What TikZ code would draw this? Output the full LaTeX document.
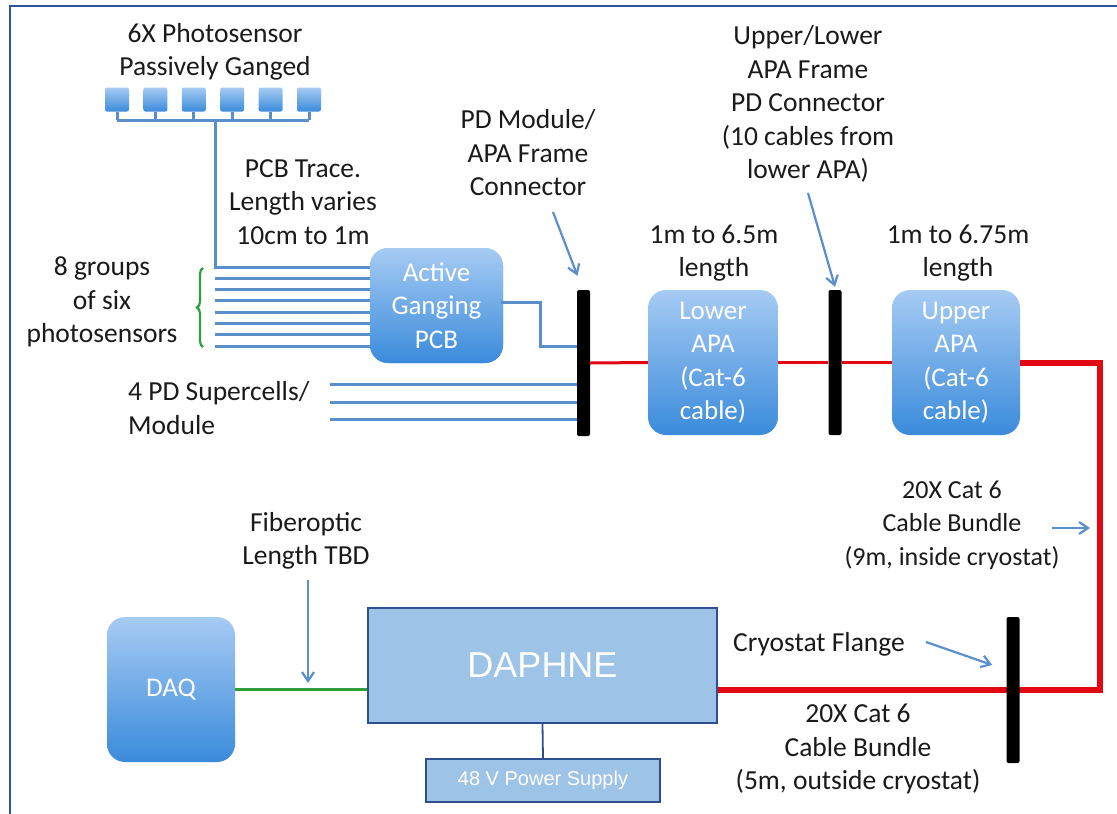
\documentclass[tikz,border=0pt]{standalone}
\usepackage{fontspec}
\setmainfont{Carlito}
\newfontfamily\arialf{Liberation Sans}
\usetikzlibrary{arrows.meta,calc,decorations.pathreplacing}
\definecolor{frameblue}{HTML}{2F5597}
\definecolor{wire}{HTML}{5B8FCC}
\definecolor{boxtop}{HTML}{A6CBF3}
\definecolor{boxbot}{HTML}{3A8BDB}
\definecolor{flatfill}{HTML}{9DC3E6}
\definecolor{flatedge}{HTML}{2E4F8F}
\definecolor{cable}{HTML}{E30613}
\definecolor{fiber}{HTML}{2E9E3A}
\definecolor{txt}{HTML}{1A1A1A}
\tikzset{
  lbl/.style={font=\fontsize{27.5}{33.5}\selectfont, text=txt, align=center, inner sep=0pt},
  gbox/.style={rounded corners=18pt, top color=boxtop, bottom color=boxbot, draw=none,
    text=white, font=\fontsize{27}{33.5}\selectfont, align=center, inner sep=0pt},
  sensor/.style={rounded corners=2pt, top color=boxtop, bottom color=boxbot,
    minimum width=24pt, minimum height=24pt, inner sep=0pt},
  flat/.style={fill=flatfill, draw=flatedge, line width=1.8pt, inner sep=0pt, text=white},
  bar/.style={fill=black, rounded corners=2pt, inner sep=0pt, minimum width=13pt},
  wireline/.style={draw=wire, line width=3pt},
  ptr/.style={draw=wire, line width=2.2pt, -{Straight Barb[length=9pt,width=12pt]}},
  cablethin/.style={draw=cable, line width=3pt},
  cablethick/.style={draw=cable, line width=6pt},
}
\begin{document}
\begin{tikzpicture}[x=1pt,y=-1pt]
\useasboundingbox (0,0) rectangle (1117,814);
% frame
\draw[frameblue, line width=2.5pt] (10,814) -- (10,6) -- (1117,6);

% texts
\node[lbl] (t6x) at (215,52) {6X Photosensor\\Passively Ganged};
\node[lbl] (tpcb) at (303,202) {PCB Trace.\\Length varies\\10cm to 1m};
\node[lbl] (t8g) at (102,302) {8 groups\\of six\\photosensors};
\node[lbl] (tpdm) at (528,153) {PD Module/\\APA Frame\\Connector};
\node[lbl] (tul) at (808,104) {Upper/Lower\\APA Frame\\PD Connector\\(10 cables from\\lower APA)};
\node[lbl] (tlen1) at (714,253) {1m to 6.5m\\length};
\node[lbl] (tlen2) at (958,253) {1m to 6.75m\\length};
\node[lbl, align=left, anchor=west] (tsc) at (128,408) {4 PD Supercells/\\Module};
\node[lbl, font=\fontsize{26}{33.5}\selectfont] (tin) at (952,525) {20X Cat 6\\Cable Bundle\\(9m, inside cryostat)};
\node[lbl] (tfib) at (306,541) {Fiberoptic\\Length TBD};
\node[lbl] (tfl) at (819,644) {Cryostat Flange};
\node[lbl] (tout) at (858,749) {20X Cat 6\\Cable Bundle\\(5m, outside cryostat)};

% sensors
\foreach \i in {0,...,5} {
  \node[sensor] (s\i) at (117+38.4*\i, 99.5) {};
}
\coordinate (busL) at (117,120);
\coordinate (busR) at (309,120);
\coordinate (trunk) at (215,120);
\foreach \i in {0,...,5} {
  \draw[wireline] (s\i.south) -- (s\i.south |- busL);
}
\draw[wireline] (busL) -- (busR);

% PCB group lines
\node[gbox, minimum width=133pt, minimum height=115pt] (pcb) at (436.5,305.5) {};
\draw[wireline] (trunk) -- (215,267) -- ($(pcb.west)+(10,-38.5)$);
\foreach \k in {1,...,7} {
  \draw[wireline] (215,{267+11.3*\k}) -- ($(pcb.west)+(10,{-38.5+11.3*\k})$);
}
\node[gbox, minimum width=133pt, minimum height=115pt] (pcb2) at (436.5,305.5) {Active\\Ganging\\PCB};
\draw[fiber, line width=2.2pt, decorate, decoration={brace, amplitude=6pt, aspect=0.5}] (203,347) -- (203,268);

% bars
\node[bar, minimum height=146pt] (pd) at (583.5,363) {};
\node[bar, minimum height=145pt] (mid) at (835,362.5) {};

% PCB output
\draw[wireline] ($(pcb2.east)+(-2,-3)$) -- (540,302.5) -- (540,346) -- (pd.west |- 0,346);
% supercell lines
\foreach \yy in {384,402,419} {
  \draw[wireline] (330,\yy) -- (pd.west |- 0,\yy);
}

% APA boxes
\node[gbox, minimum width=130pt, minimum height=145pt] (lapa) at (713,362.5) {Lower\\APA\\(Cat-6\\cable)};
\node[gbox, minimum width=128pt, minimum height=145pt] (uapa) at (956,362.5) {Upper\\APA\\(Cat-6\\cable)};

% bottom boxes
\node[gbox, minimum width=128pt, minimum height=145pt, font=\fontsize{27}{30}\selectfont] (daq) at (171,689.5) {DAQ};
\node[flat, minimum width=349pt, minimum height=115pt, font=\arialf\fontsize{36}{40}\selectfont] (daphne) at (542.5,665.5) {DAPHNE};
\node[flat, minimum width=234pt, minimum height=43pt, font=\arialf\fontsize{20}{24}\selectfont] (psu) at (543,780.5) {48 V Power Supply};
\draw[flatedge, line width=1.8pt] (daphne.south) -- (psu.north);

% cables
\draw[cablethin] (pd.east) -- (lapa.west);
\draw[cablethin] (lapa.east) -- (mid.west);
\draw[cablethin] (mid.east) -- (uapa.west);
\coordinate (rc) at (1100,362.5);
\draw[cablethick] (uapa.east) -- (rc) |- (daphne.east |- daq.east);
\draw[fiber, line width=3.5pt] (daq.east) -- (daphne.west |- daq.east);

\node[bar, minimum height=146pt] (cryo) at (1013,690) {};

% pointers
\coordinate (a1) at (553,212);
\draw[ptr] (a1) -- ($(pd.north)+(-6,-14)$);
\coordinate (a2) at (808,193);
\draw[ptr] (a2) -- ($(mid.north)+(0,-3)$);
\coordinate (a3) at (308,580);
\draw[ptr] (a3) -- (308,683);
\coordinate (a4) at (926,642);
\draw[ptr] (a4) -- ($(cryo.west)+(-14,-25)$);
\coordinate (a5) at (1052,528);
\draw[ptr] (a5) -- (1090,528);
\end{tikzpicture}
\end{document}
